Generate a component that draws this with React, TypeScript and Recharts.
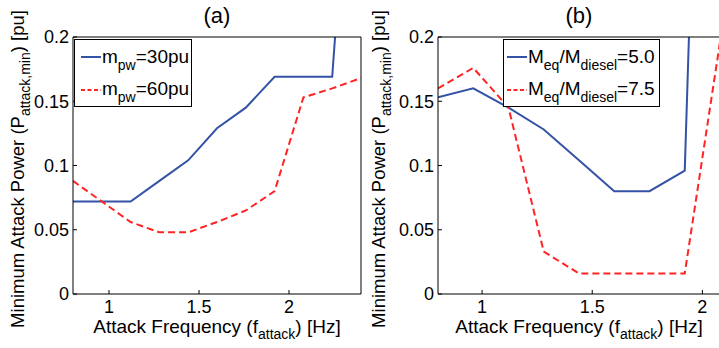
import React from "react";
import { Label, Legend, Line, LineChart, XAxis, YAxis } from "recharts";

// Attack frequency grid shared by both panels (Hz).
const FREQ_A = [0.8, 0.96, 1.12, 1.28, 1.44, 1.6, 1.76, 1.92, 2.08, 2.24, 2.4];
const FREQ_B = [0.8, 0.96, 1.12, 1.28, 1.44, 1.6, 1.76, 1.92, 2.08];

// (a) minimum attack power vs frequency for two m_pw values (pu).
const MPW_30 = [0.072, 0.072, 0.072, 0.088, 0.104, 0.129, 0.145, 0.169, 0.169, 0.169, 0.48];
const MPW_60 = [0.088, 0.072, 0.056, 0.048, 0.048, 0.056, 0.065, 0.08, 0.153, 0.16, 0.168];

// (b) same measure for two inertia ratios.
const RATIO_50 = [0.153, 0.16, 0.145, 0.128, 0.104, 0.08, 0.08, 0.096, 0.97];
const RATIO_75 = [0.16, 0.176, 0.145, 0.033, 0.016, 0.016, 0.016, 0.016, 0.196];

const X_TICKS = [1, 1.5, 2];
const Y_TICKS = [0, 0.05, 0.1, 0.15, 0.2];

const FONT = "'Liberation Sans', Arial, Helvetica, sans-serif";
const BLUE = "#3452a6";
const RED = "#ff2424";
const TICK = { fontSize: 18, fill: "#000", fontFamily: FONT };
const AXIS = { stroke: "#000", strokeWidth: 1 };

type Row = { f: number; solid: number; dashed: number };

function buildRows(freq: number[], solid: number[], dashed: number[]): Row[] {
  return freq.map((f, i) => ({ f, solid: solid[i], dashed: dashed[i] }));
}

function XTitle({ viewBox }: any) {
  const cx = viewBox.x + viewBox.width / 2;
  return (
    <text x={cx} y={333} textAnchor="middle" fontSize={19} fontFamily={FONT} fill="#000">
      Attack Frequency (f
      <tspan dy={6} fontSize={14}>attack</tspan>
      <tspan dy={-6}>) [Hz]</tspan>
    </text>
  );
}

function YTitle({ x }: { x: number }) {
  const cy = 169;
  return (
    <text
      x={x}
      y={cy}
      transform={`rotate(-90 ${x} ${cy})`}
      textAnchor="middle"
      fontSize={18.5}
      fontFamily={FONT}
      fill="#000"
    >
      Minimum Attack Power (P
      <tspan dy={6} fontSize={14}>attack,min</tspan>
      <tspan dy={-6}>) [pu]</tspan>
    </text>
  );
}

function PanelTitle({ viewBox, text }: any) {
  const cx = viewBox.x + viewBox.width / 2;
  return (
    <text x={cx} y={23} textAnchor="middle" fontSize={22} fontFamily={FONT} fill="#000">
      {text}
    </text>
  );
}

function LegendBox({ width, textX, rows }: { width: number; textX: number; rows: React.ReactNode[] }) {
  const lineStart = textX - 21;
  return (
    <svg width={width} height={69} style={{ display: "block" }}>
      <rect x={0.5} y={0.5} width={width - 1} height={67} fill="#fff" stroke="#000" strokeWidth={1} />
      <line x1={lineStart} x2={textX - 1} y1={18} y2={18} stroke={BLUE} strokeWidth={2} />
      <line x1={lineStart} x2={textX - 1} y1={51} y2={51} stroke={RED} strokeWidth={2} strokeDasharray="4 2.5" />
      {rows.map((r, i) => (
        <text key={i} x={textX} y={24 + i * 32} fontSize={19} fontFamily={FONT} fill="#000">
          {r}
        </text>
      ))}
    </svg>
  );
}

type PanelProps = {
  left: number;
  width: number;
  xMax: number;
  rows: Row[];
  title: string;
  yTitleX: number;
  legendLeft: number;
  legendWidth: number;
  legendTextX: number;
  legendRows: React.ReactNode[];
};

function Panel(p: PanelProps) {
  const xDomain: [number, number] = [0.8, p.xMax];
  return (
    <div style={{ position: "absolute", left: p.left, top: 0 }}>
      <LineChart width={p.width} height={348} data={p.rows} margin={{ top: 36, right: 0, bottom: 0, left: 0 }}>
        <XAxis
          xAxisId="bottom"
          dataKey="f"
          type="number"
          domain={xDomain}
          ticks={X_TICKS}
          allowDataOverflow
          height={54}
          tickSize={-4}
          tickMargin={10}
          tick={TICK}
          axisLine={AXIS}
          tickLine={AXIS}
        >
          <Label content={(props: any) => <XTitle {...props} />} />
        </XAxis>
        <XAxis
          xAxisId="top"
          orientation="top"
          dataKey="f"
          type="number"
          domain={xDomain}
          ticks={X_TICKS}
          allowDataOverflow
          height={1}
          tickSize={-4}
          tick={false}
          axisLine={AXIS}
          tickLine={AXIS}
        >
          <Label content={(props: any) => <PanelTitle {...props} text={p.title} />} />
        </XAxis>
        <YAxis
          yAxisId="left"
          type="number"
          domain={[0, 0.2]}
          ticks={Y_TICKS}
          allowDataOverflow
          width={73}
          tickSize={-4}
          tickMargin={8}
          tick={TICK}
          axisLine={AXIS}
          tickLine={AXIS}
        >
          <Label content={() => <YTitle x={p.yTitleX} />} />
        </YAxis>
        <YAxis
          yAxisId="right"
          orientation="right"
          type="number"
          domain={[0, 0.2]}
          ticks={Y_TICKS}
          allowDataOverflow
          width={1}
          tickSize={-4}
          tick={false}
          axisLine={AXIS}
          tickLine={AXIS}
        />
        <Line
          xAxisId="bottom"
          yAxisId="left"
          type="linear"
          dataKey="solid"
          stroke={BLUE}
          strokeWidth={2}
          dot={false}
          isAnimationActive={false}
        />
        <Line
          xAxisId="bottom"
          yAxisId="left"
          type="linear"
          dataKey="dashed"
          stroke={RED}
          strokeWidth={2}
          strokeDasharray="7 4"
          dot={false}
          isAnimationActive={false}
        />
        <Legend
          layout="vertical"
          align="center"
          verticalAlign="middle"
          wrapperStyle={{ left: p.legendLeft, top: 39, width: p.legendWidth, height: 69 }}
          content={() => <LegendBox width={p.legendWidth} textX={p.legendTextX} rows={p.legendRows} />}
        />
      </LineChart>
    </div>
  );
}

export default function App() {
  const rowsA = buildRows(FREQ_A, MPW_30, MPW_60);
  const rowsB = buildRows(FREQ_B, RATIO_50, RATIO_75);
  const sub = (s: string) => (
    <tspan dy={7} fontSize={14}>
      {s}
    </tspan>
  );
  return (
    <div
      style={{
        position: "absolute",
        left: 0,
        top: 0,
        width: 719,
        height: 348,
        overflow: "hidden",
        background: "#fff",
      }}
    >
      <Panel
        left={0}
        width={362}
        xMax={2.4}
        rows={rowsA}
        title="(a)"
        yTitleX={24}
        legendLeft={74}
        legendWidth={118}
        legendTextX={28}
        legendRows={[
          <>m{sub("pw")}<tspan dy={-7}>=30pu</tspan></>,
          <>m{sub("pw")}<tspan dy={-7}>=60pu</tspan></>,
        ]}
      />
      <Panel
        left={365}
        width={356}
        xMax={2.08}
        rows={rowsB}
        title="(b)"
        yTitleX={20}
        legendLeft={138}
        legendWidth={157}
        legendTextX={25}
        legendRows={[
          <>M{sub("eq")}<tspan dy={-7}>/M</tspan>{sub("diesel")}<tspan dy={-7}>=5.0</tspan></>,
          <>M{sub("eq")}<tspan dy={-7}>/M</tspan>{sub("diesel")}<tspan dy={-7}>=7.5</tspan></>,
        ]}
      />
    </div>
  );
}
